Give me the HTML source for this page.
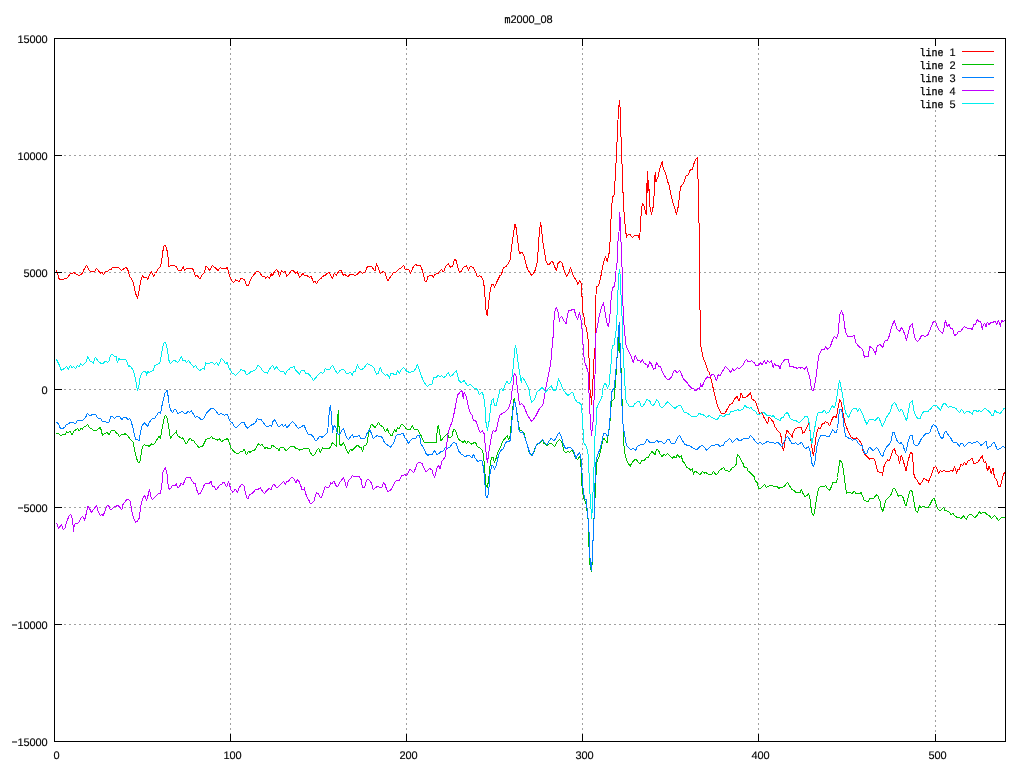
<!DOCTYPE html>
<html lang="en">
<head>
<meta charset="utf-8">
<title>m2000_08</title>
<style>
html,body{margin:0;padding:0;background:#fff;}
body{width:1024px;height:768px;overflow:hidden;position:relative;}
svg{position:absolute;left:0;top:0;display:block;}
text{font-size:11px;fill:#000;stroke:#000;stroke-width:0.12px;text-rendering:geometricPrecision;}
.d{font-family:"Liberation Sans","DejaVu Sans",sans-serif;}
.m{font-family:"Liberation Mono","DejaVu Sans Mono",monospace;stroke-width:0.3px;}
.grid{stroke:#a0a0a0;stroke-width:1;stroke-dasharray:2 3;fill:none;}
.ax{stroke:#000;stroke-width:1;fill:none;}
.ser{fill:none;stroke-width:1;stroke-linejoin:bevel;stroke-linecap:butt;}
</style>
</head>
<body>
<svg width="1024" height="768" viewBox="0 0 1024 768" shape-rendering="crispEdges">
<rect x="0" y="0" width="1024" height="768" fill="#ffffff"/>

<g class="grid">
<line x1="54" y1="155.5" x2="1006" y2="155.5"/>
<line x1="54" y1="272.5" x2="1006" y2="272.5"/>
<line x1="54" y1="389.5" x2="1006" y2="389.5"/>
<line x1="54" y1="507.5" x2="1006" y2="507.5"/>
<line x1="54" y1="624.5" x2="1006" y2="624.5"/>
<line x1="230.5" y1="38" x2="230.5" y2="742"/>
<line x1="406.5" y1="38" x2="406.5" y2="742"/>
<line x1="582.5" y1="38" x2="582.5" y2="742"/>
<line x1="758.5" y1="38" x2="758.5" y2="742"/>
<line x1="935.5" y1="110" x2="935.5" y2="742"/>
</g>
<rect x="914" y="46" width="86" height="63" fill="#ffffff"/>
<polyline class="ser" stroke="#ff0000" points="56.5,270.0 59.2,279.1 63.0,279.5 65.5,278.5 67.8,277.5 70.5,272.9 71.8,273.5 73.6,272.5 76.1,274.1 79.0,275.8 82.4,273.2 84.2,269.1 86.5,265.4 88.0,267.9 89.9,271.2 92.4,271.2 94.9,271.2 96.5,268.5 98.6,271.0 100.5,273.2 102.0,272.5 103.6,274.5 105.5,271.6 107.8,271.0 109.9,269.5 110.8,270.0 112.4,267.2 114.2,267.9 116.5,267.0 119.2,268.2 121.8,270.4 124.2,268.5 126.1,267.0 127.8,269.8 129.9,277.0 131.5,278.8 133.0,281.6 134.2,287.2 135.5,292.9 137.4,298.5 138.6,293.5 139.9,286.0 140.8,280.4 142.4,275.4 144.2,277.9 146.1,277.0 147.8,279.5 149.9,274.1 151.5,271.6 153.6,276.6 155.5,273.5 158.0,269.1 160.5,266.6 161.8,259.8 162.8,251.6 164.0,245.6 165.5,245.6 166.8,249.8 167.8,253.5 168.6,267.2 171.1,265.4 173.6,265.4 176.0,266.6 176.0,266.6 178.5,270.4 181.2,270.4 183.2,266.4 184.5,270.4 186.6,268.2 191.6,268.2 193.5,270.0 195.4,276.2 197.2,275.4 199.8,278.8 202.2,274.8 204.5,272.2 205.8,266.4 207.9,267.5 209.5,270.6 212.2,265.4 214.8,267.5 217.9,270.6 220.4,267.5 221.6,268.5 226.0,268.5 227.2,267.0 229.1,274.8 231.6,280.4 233.8,282.5 235.8,279.8 239.1,281.6 241.2,278.2 244.5,279.8 246.2,285.0 248.5,285.4 250.4,279.8 252.9,276.0 256.0,272.2 257.9,271.0 259.8,272.9 262.2,276.2 264.8,276.6 265.8,278.5 267.5,276.6 269.5,278.5 271.2,273.5 272.2,276.2 274.8,271.0 276.6,269.5 278.2,271.6 279.5,276.6 281.6,270.4 283.5,272.2 285.4,271.0 286.6,276.6 288.5,274.5 291.6,270.1 293.5,271.0 295.4,273.2 297.2,271.6 299.8,277.5 301.6,274.8 302.9,273.5 304.0,274.8 304.0,275.4 306.5,275.4 309.6,277.2 311.2,276.4 313.4,282.2 315.0,281.2 316.5,283.5 319.0,279.8 320.9,278.5 322.5,276.4 325.2,275.4 327.1,273.5 329.0,272.2 330.9,276.0 332.5,278.5 334.2,273.2 336.2,275.4 339.0,271.0 340.9,270.1 343.4,275.4 345.0,274.5 347.8,276.6 350.5,274.1 352.8,274.1 355.0,275.8 357.1,274.5 360.2,271.4 362.5,273.5 365.2,272.0 367.5,266.4 371.5,266.4 373.4,269.1 375.2,271.2 376.5,263.2 380.2,273.5 383.4,271.4 385.2,272.9 387.5,281.2 390.2,277.2 394.0,272.0 395.5,272.5 398.4,269.5 400.2,268.5 403.6,265.4 405.2,269.1 409.0,269.8 410.6,273.5 412.5,268.5 414.0,265.8 415.6,264.1 417.1,265.4 420.2,265.6 422.1,269.8 424.0,277.2 425.2,281.2 426.5,281.2 428.0,276.6 429.6,275.4 432.0,275.4 432.0,276.4 433.5,277.2 435.1,274.5 438.2,273.2 441.4,269.5 443.5,272.2 445.5,266.4 448.2,263.5 450.5,267.2 452.6,266.0 454.5,259.5 456.4,260.4 457.6,266.6 459.5,272.5 461.4,271.0 463.2,267.5 466.4,265.8 468.5,270.4 470.1,266.6 473.2,267.2 475.1,271.0 477.6,277.2 479.5,275.8 481.4,276.6 483.0,279.8 484.2,286.6 485.1,298.5 486.0,310.4 487.4,316.2 488.5,304.1 489.5,296.0 490.5,288.5 491.8,284.5 493.2,284.5 494.5,287.5 497.0,281.6 500.1,275.4 501.4,274.5 503.2,268.5 504.5,267.2 506.4,266.0 508.2,263.5 510.1,259.5 511.4,248.5 512.6,239.8 513.9,231.0 514.8,224.8 515.5,224.5 516.4,229.8 517.6,239.8 518.9,251.0 519.8,254.1 521.0,252.2 522.2,252.5 523.9,256.0 525.8,262.9 527.6,269.8 529.5,272.2 531.6,275.4 533.2,274.1 535.1,270.4 537.0,263.5 538.0,252.2 538.9,238.5 539.8,228.5 540.5,222.2 541.4,227.9 542.4,237.2 543.2,244.8 544.5,252.2 545.8,260.4 547.6,264.1 549.5,264.1 551.8,261.2 553.2,262.9 554.8,267.2 556.4,270.4 558.0,263.5 560.0,261.2 560.0,261.4 562.1,263.2 564.0,270.1 566.5,276.4 568.6,273.2 570.5,267.6 572.5,273.9 574.6,278.2 576.2,280.1 577.8,284.5 579.6,280.5 581.5,284.2 581.8,296.4 582.8,297.0 583.0,313.2 583.8,313.9 584.6,324.5 586.5,328.0 588.0,339.2 588.8,351.8 589.2,363.6 589.9,389.2 590.9,396.1 591.5,404.5 592.2,393.0 592.8,379.9 593.6,377.4 594.0,358.6 594.9,357.4 595.2,333.0 595.5,303.2 596.5,286.4 598.4,286.0 600.2,279.5 601.5,273.2 602.8,265.8 603.8,261.4 605.5,256.4 607.5,262.0 608.4,254.5 609.6,252.6 610.6,227.0 611.5,209.2 612.5,197.2 614.4,194.5 615.4,173.2 616.5,154.5 617.5,130.2 618.5,109.2 619.5,100.2 620.5,113.0 620.9,137.0 621.5,137.6 621.9,163.9 622.5,164.5 622.5,192.0 623.5,192.6 623.8,212.0 624.6,212.6 625.0,223.9 625.6,224.5 626.2,237.6 628.1,234.5 630.0,234.2 632.2,237.6 634.4,235.5 638.1,235.5 639.4,239.5 640.0,232.8 640.6,221.5 641.5,209.0 642.5,203.4 644.4,207.1 646.2,214.6 646.6,193.4 647.5,171.2 647.9,193.4 648.5,180.2 649.4,195.9 650.0,207.1 651.5,214.6 653.1,207.1 654.0,196.5 654.6,181.5 655.2,172.1 656.0,181.5 656.9,179.0 658.1,176.5 659.6,169.0 661.2,164.0 662.5,161.5 663.1,167.8 665.0,172.1 666.2,175.9 667.5,181.5 669.4,185.6 670.6,193.4 672.5,200.9 675.0,209.0 676.5,214.6 678.1,207.1 679.0,200.2 680.0,190.9 681.2,185.6 683.1,184.2 685.0,179.0 686.2,175.9 688.4,175.0 689.6,171.2 690.6,169.6 692.2,170.2 693.8,164.0 695.6,159.6 697.5,157.1 697.8,179.0 698.5,179.6 698.8,222.8 699.5,223.4 699.5,240.0 699.5,290.5 700.5,328.0 700.5,344.2 701.8,350.5 703.2,358.0 705.8,364.2 707.6,370.5 709.5,372.4 710.8,378.0 712.6,385.5 713.9,391.8 715.8,399.2 717.6,406.1 719.5,410.5 721.4,413.6 725.1,413.0 727.6,408.6 729.5,404.9 732.0,403.6 734.5,399.2 737.0,396.5 739.2,401.1 741.1,392.8 743.2,398.0 746.4,396.8 748.2,395.5 750.5,392.4 752.0,399.2 755.5,401.1 757.6,408.0 759.5,413.6 762.2,412.4 763.9,417.4 765.8,420.5 767.6,424.0 768.9,416.9 770.8,418.8 773.2,421.9 775.1,426.9 777.6,430.6 780.5,433.5 781.4,438.8 782.6,446.9 783.5,451.2 784.5,445.0 785.5,436.9 787.0,429.8 788.9,432.8 790.8,435.0 792.2,437.5 793.2,431.9 795.1,429.0 797.6,427.8 800.0,427.2 800.0,427.2 801.5,427.5 802.5,433.2 804.4,432.2 806.2,428.5 808.8,423.2 809.8,428.5 810.6,438.5 811.5,444.1 812.5,451.0 813.5,456.0 814.8,447.2 816.0,437.2 817.2,431.0 818.5,427.2 820.0,429.1 822.2,424.1 824.0,423.5 825.6,421.6 828.1,423.2 829.8,426.0 831.2,421.0 832.8,417.9 834.4,416.2 836.5,417.9 837.5,411.0 838.5,406.0 839.8,399.1 841.2,402.9 842.5,409.8 843.8,417.2 845.2,424.1 847.5,429.8 849.4,433.5 851.2,437.2 853.1,438.5 855.0,438.5 856.9,437.9 858.8,439.8 860.6,442.2 862.1,445.4 862.5,449.8 864.4,454.1 866.9,456.6 869.4,459.1 871.2,458.2 873.8,458.5 875.0,461.0 876.2,466.0 877.5,471.0 880.0,472.5 881.9,472.8 882.5,475.6 883.5,467.9 885.0,464.1 887.5,459.8 889.4,461.0 890.6,457.2 892.5,451.0 894.4,448.2 896.0,454.1 898.1,456.0 899.6,463.8 901.2,454.8 902.8,459.1 904.4,464.8 906.0,470.6 907.8,462.2 909.4,456.0 910.6,452.5 912.5,453.5 913.1,463.8 913.8,473.8 915.0,477.5 917.5,481.0 919.8,484.8 921.9,481.9 924.0,478.1 926.2,479.8 928.0,481.0 928.1,482.5 929.8,478.8 931.6,474.4 933.5,468.1 935.8,466.2 937.0,468.8 938.5,473.5 940.4,470.6 942.0,472.2 943.5,470.2 945.4,471.5 949.8,471.5 951.0,470.0 952.9,471.2 954.5,466.5 955.8,470.0 956.6,474.4 957.5,469.4 959.1,469.4 961.0,463.8 962.9,465.6 964.5,461.9 966.2,465.0 968.2,460.2 970.4,460.0 972.0,457.8 973.5,463.1 975.4,463.5 977.9,462.2 979.8,459.4 982.2,455.6 984.1,462.5 985.8,461.9 987.5,471.2 989.1,466.0 991.2,473.5 992.9,467.8 994.5,477.5 996.6,479.4 998.5,486.5 1000.4,486.5 1002.0,480.0 1003.5,474.4 1005.0,472.2"/>
<polyline class="ser" stroke="#00c000" points="56.5,433.8 58.6,433.4 60.5,435.5 63.0,434.6 65.5,434.0 66.8,431.5 68.2,433.0 70.2,431.2 72.4,435.2 73.6,431.2 75.5,430.0 77.8,428.4 79.2,431.2 80.8,428.4 82.4,429.2 84.2,426.5 86.1,425.9 87.8,424.2 89.5,427.8 91.8,428.8 93.6,430.5 96.1,430.5 98.0,429.2 100.2,427.5 101.1,429.6 102.4,435.2 104.2,434.0 106.8,432.5 109.2,434.6 110.5,431.5 112.4,430.2 114.9,430.5 116.8,433.8 118.0,434.0 119.5,436.5 121.8,434.2 123.0,435.2 124.9,433.8 126.8,434.6 128.6,437.1 130.5,439.6 133.0,442.1 134.2,447.8 135.5,454.0 137.4,460.9 138.6,462.8 139.9,462.1 141.1,454.6 142.4,446.5 144.2,444.6 146.1,445.9 147.6,445.0 149.2,446.5 151.5,443.8 153.6,444.6 155.5,442.1 157.4,439.0 159.0,435.9 160.5,438.4 161.8,430.2 163.0,424.0 164.2,417.8 165.5,415.2 167.4,418.4 168.6,426.5 169.9,435.2 170.5,439.0 172.4,435.2 174.2,434.0 176.0,432.1 176.0,430.5 177.5,435.9 179.8,437.1 181.2,438.4 183.2,437.8 184.8,441.5 186.2,444.2 188.5,440.0 190.4,437.8 191.6,440.9 193.5,440.5 195.4,443.4 197.2,445.2 198.8,448.0 200.4,446.5 202.2,447.1 204.1,443.4 206.0,439.6 207.9,438.4 209.1,439.0 211.6,436.5 212.9,438.4 214.8,438.8 217.2,440.2 219.8,438.8 221.6,442.1 222.9,440.2 225.4,439.6 227.5,438.4 229.1,442.1 231.0,447.8 232.9,450.2 234.8,452.1 236.6,453.4 239.1,453.0 241.0,450.9 242.2,452.1 244.1,448.8 246.4,455.2 248.5,451.2 249.8,452.5 252.2,450.9 254.1,450.9 256.0,447.8 258.5,443.8 260.4,445.2 262.2,444.6 265.0,448.4 266.0,446.8 267.9,448.4 270.4,449.0 272.2,445.0 274.1,446.5 276.0,447.8 277.9,449.0 278.8,451.2 279.8,447.8 283.5,447.5 285.4,450.0 287.2,450.0 289.1,447.8 291.0,446.5 292.9,447.1 294.1,446.2 296.0,448.8 297.9,448.8 299.8,450.2 302.2,449.2 304.0,448.4 304.0,448.0 306.5,448.4 308.8,448.4 310.2,452.1 312.1,455.2 314.0,455.2 315.9,452.5 317.1,450.2 318.8,448.4 320.2,452.5 322.5,447.8 323.8,449.0 325.9,448.4 329.6,448.4 330.9,445.9 332.5,442.5 334.6,444.6 336.5,446.5 336.8,437.8 337.5,420.2 338.4,410.2 338.8,426.5 339.6,427.1 339.6,444.0 340.9,445.9 343.4,442.5 344.6,445.2 346.5,450.2 348.4,453.4 350.2,449.6 352.1,450.2 355.2,447.1 357.5,445.2 359.6,447.1 360.9,447.1 362.5,451.5 364.0,446.2 365.9,445.2 367.5,442.1 368.4,434.0 370.0,427.8 371.5,424.2 373.4,425.9 375.0,427.8 377.1,424.6 378.6,422.1 380.2,425.2 382.8,426.8 384.0,429.0 385.5,432.1 387.1,428.4 389.0,432.8 390.9,435.2 392.1,435.5 393.4,432.1 394.6,429.6 396.2,432.1 397.5,427.8 399.0,429.0 401.5,424.2 403.6,425.2 405.9,428.4 407.1,429.2 410.2,429.2 412.5,425.2 413.8,429.0 417.8,429.6 419.6,433.0 421.5,436.5 423.4,440.9 424.6,442.8 427.8,442.4 432.0,442.4 432.0,442.5 436.4,442.5 437.2,430.0 438.2,425.6 439.2,430.0 440.8,440.6 442.6,438.8 445.1,435.6 447.6,433.8 448.9,438.1 452.0,436.2 453.2,430.6 454.5,428.8 456.4,433.1 458.2,438.8 460.1,440.6 463.2,442.5 464.8,440.6 466.4,443.8 468.2,441.2 471.8,444.4 473.9,442.5 475.8,443.1 477.6,446.9 480.1,448.1 482.0,449.8 483.2,453.8 484.2,462.5 485.1,475.0 486.0,485.0 487.4,487.9 488.5,480.0 489.2,475.0 489.8,467.5 490.5,461.2 491.8,457.5 493.2,457.5 494.5,462.5 496.4,457.5 498.2,451.2 500.1,448.1 502.0,443.1 503.9,439.8 505.8,437.5 507.6,435.6 508.5,440.0 510.1,436.2 510.8,428.8 512.0,416.2 513.0,406.2 514.2,398.1 515.5,403.8 517.0,412.5 518.2,422.5 519.5,430.0 521.4,430.6 523.9,433.1 525.1,437.5 527.6,446.2 529.5,453.8 531.6,455.0 533.5,453.1 535.1,448.1 537.0,444.4 538.9,443.1 540.8,441.9 542.6,440.0 544.0,443.4 544.0,443.4 546.8,445.5 549.0,444.0 551.2,443.0 552.8,444.6 554.6,446.5 556.5,442.8 559.6,439.2 561.5,441.5 562.8,445.9 564.0,450.9 565.5,452.5 567.8,451.5 569.6,452.5 571.8,450.2 573.4,452.8 575.9,458.4 577.5,459.6 579.6,456.5 580.9,460.2 581.2,476.5 582.1,486.5 583.0,494.0 584.0,499.0 585.9,502.8 587.1,511.5 587.5,511.2 588.0,518.8 588.4,532.5 588.8,541.2 589.2,552.5 589.6,562.5 590.5,568.8 591.5,571.9 592.4,560.0 593.0,540.2 594.0,518.5 594.9,500.0 595.2,494.0 596.2,470.2 597.1,460.9 599.0,457.1 600.9,449.0 602.8,440.2 603.8,437.8 605.2,440.2 607.1,442.8 608.0,436.5 609.0,430.2 609.6,424.0 609.8,424.0 610.9,408.0 612.1,400.5 614.0,399.2 615.2,385.5 616.1,374.2 616.9,358.0 617.8,356.8 618.4,339.2 619.0,335.5 619.6,345.5 620.5,361.8 621.1,369.2 621.5,386.8 621.8,395.5 622.8,410.5 623.0,424.0 623.1,424.0 623.4,436.5 624.2,449.0 625.5,456.5 627.1,461.5 630.2,466.5 631.5,463.4 633.0,461.5 635.5,459.0 637.8,461.5 640.0,463.8 642.1,460.2 644.0,460.9 646.5,457.5 648.4,457.1 650.2,454.0 651.8,451.5 653.4,453.0 655.0,454.6 656.5,449.6 658.4,450.2 660.2,454.0 662.1,456.5 663.8,454.6 665.5,455.2 667.5,453.4 669.6,455.5 672.0,457.8 672.0,458.5 673.9,456.5 675.8,457.8 677.6,454.4 679.2,457.2 681.4,455.6 682.6,461.2 684.5,463.1 686.8,467.2 688.9,468.5 690.8,470.2 692.2,468.5 693.5,474.4 695.1,471.2 697.6,472.8 700.1,474.8 702.6,471.5 704.8,473.1 706.4,472.8 708.5,474.6 711.8,474.4 713.5,471.5 715.8,474.8 717.6,473.8 719.5,470.2 721.4,469.0 723.5,467.5 725.1,470.0 727.0,470.6 729.5,471.5 732.0,468.1 734.5,466.9 736.4,463.8 737.0,457.5 737.6,454.4 739.5,456.9 741.4,460.6 743.2,463.8 744.5,468.1 746.4,466.9 748.2,471.2 750.1,472.5 752.0,474.4 753.9,476.2 755.5,481.2 757.6,483.1 758.5,489.0 760.8,488.1 762.6,486.2 764.5,484.4 766.4,487.5 768.9,486.2 770.8,485.2 773.2,486.2 775.1,486.9 777.0,486.2 778.9,488.5 780.8,486.9 782.6,487.5 784.5,486.2 786.4,483.5 787.6,482.2 789.5,485.6 792.0,489.8 793.9,490.2 795.8,492.5 798.2,492.5 800.0,492.5 800.0,491.2 801.5,489.4 803.1,493.8 805.0,496.5 806.9,495.6 808.5,493.5 810.0,498.8 811.0,507.5 812.1,513.1 813.5,516.2 814.8,510.0 816.0,502.5 817.2,495.0 818.5,488.8 820.0,486.9 821.9,486.2 823.8,486.9 825.6,485.2 827.5,488.8 829.4,490.6 831.0,487.5 832.8,482.5 836.5,482.2 837.5,477.5 838.5,468.8 839.8,460.6 841.5,461.5 842.5,465.0 843.8,473.8 845.0,483.1 846.5,493.1 849.4,492.5 851.9,493.5 854.4,491.2 855.6,493.1 858.1,493.1 859.8,493.5 861.2,492.2 862.5,496.2 864.4,500.6 866.2,501.2 868.1,502.2 869.4,498.8 871.9,498.1 873.8,498.1 876.5,494.8 878.1,496.2 880.0,501.2 881.2,507.5 882.8,511.5 884.0,507.5 885.6,500.6 887.5,498.8 889.4,496.5 891.2,494.4 892.8,489.4 894.4,488.1 896.0,490.6 898.1,496.2 899.6,495.6 901.5,495.2 903.1,497.5 905.0,503.8 906.2,506.2 907.8,498.8 909.4,492.5 910.6,490.2 912.5,492.2 913.5,498.8 915.0,507.5 916.2,511.2 917.5,512.5 918.8,508.1 919.8,505.6 920.6,507.8 923.1,506.2 925.6,507.2 928.0,507.5 928.1,507.2 930.4,503.8 932.2,500.0 933.8,498.1 935.4,501.2 936.6,506.2 938.5,510.0 940.4,510.2 942.2,509.0 943.5,506.9 945.0,510.6 947.2,511.0 949.1,511.9 951.0,514.4 952.9,513.5 954.8,515.6 956.6,517.2 958.5,517.5 961.0,518.5 963.5,515.6 964.8,517.8 966.2,519.4 967.9,516.2 969.8,514.4 972.2,515.2 974.8,517.8 976.6,516.2 978.2,514.0 979.5,511.5 981.0,513.8 983.5,512.2 985.4,512.8 987.2,514.8 989.5,515.6 991.2,518.5 992.9,516.9 994.5,515.6 996.0,516.9 998.5,520.6 1000.4,518.5 1002.2,517.2 1004.1,517.8 1005.0,517.2"/>
<polyline class="ser" stroke="#0080ff" points="56.5,422.1 58.6,424.0 60.2,428.0 63.0,428.4 64.9,427.1 66.5,424.6 68.2,424.0 70.5,422.1 73.6,422.5 75.5,423.8 77.4,420.5 79.9,420.5 82.4,420.2 84.2,419.0 85.5,417.8 87.4,413.4 89.2,415.2 91.1,415.2 93.0,414.2 95.5,414.2 97.4,417.8 99.2,418.4 100.8,418.4 102.8,422.1 104.2,421.2 106.8,422.5 109.2,422.1 110.5,416.5 112.4,416.5 114.2,418.4 116.1,417.1 118.0,416.2 119.9,416.8 121.8,419.6 123.6,417.5 126.1,417.1 128.0,420.2 129.9,418.4 131.1,421.5 133.0,427.8 134.2,434.0 135.5,439.0 137.4,439.6 139.2,441.2 140.5,432.1 141.8,426.5 144.2,422.5 146.1,424.6 147.6,426.5 149.2,422.8 151.1,419.6 153.0,418.4 154.9,418.0 156.8,415.0 158.6,412.1 160.5,413.4 161.8,406.5 163.0,400.9 164.9,393.4 167.0,390.5 168.2,396.5 169.2,405.2 170.5,409.6 172.4,412.8 174.2,409.6 176.0,409.6 176.0,409.6 177.5,413.4 179.8,412.8 182.2,411.2 184.1,413.4 186.0,413.4 187.9,411.5 189.5,412.5 191.2,410.5 192.9,413.4 195.4,417.5 197.2,416.2 199.1,417.8 201.0,419.6 202.9,419.2 204.5,417.8 205.8,414.0 207.9,411.5 210.4,409.0 212.5,408.4 214.8,409.6 216.6,411.8 218.5,414.6 221.0,413.4 222.9,414.6 224.8,415.2 227.2,413.8 228.5,417.8 230.4,421.5 232.2,422.8 234.1,425.9 235.8,428.0 237.2,427.1 239.1,424.6 241.0,422.8 244.1,422.5 246.0,426.5 247.9,428.4 249.8,426.2 252.2,424.6 255.4,423.0 257.2,418.8 259.1,419.6 261.0,419.6 263.5,422.8 266.0,426.2 268.5,426.5 270.0,425.5 271.6,426.2 272.9,421.5 274.5,419.6 276.0,422.1 277.9,425.9 279.8,426.5 281.6,423.8 283.5,426.5 285.4,424.6 286.6,428.0 288.5,425.9 290.4,423.8 292.5,421.5 294.8,423.8 296.6,426.5 298.5,428.4 301.0,427.1 304.0,425.0 304.0,425.0 305.9,429.6 307.8,434.0 309.6,434.0 311.2,434.6 313.4,437.1 315.2,440.2 316.5,440.5 318.4,437.8 320.0,435.9 322.1,437.5 324.0,435.9 325.9,434.0 327.1,432.8 328.0,427.8 328.8,416.5 329.6,409.0 330.5,405.2 331.2,412.8 332.1,426.5 332.5,433.4 333.4,427.1 334.2,425.2 335.9,427.8 337.1,432.1 338.4,435.2 340.2,433.4 342.1,429.6 343.4,428.4 344.6,432.1 346.5,437.1 348.4,439.6 350.2,437.1 352.1,434.6 353.4,437.1 355.2,436.5 357.1,436.5 359.0,435.0 360.9,438.4 363.4,438.8 365.2,437.8 366.5,434.6 368.4,430.9 370.0,429.6 371.5,434.0 373.4,438.8 375.2,437.1 377.1,435.2 379.0,436.5 380.9,436.5 382.8,438.4 384.0,441.5 385.9,443.8 388.4,445.5 390.2,447.5 392.1,445.2 394.0,442.1 395.9,436.5 397.5,434.2 399.0,435.2 400.9,434.0 403.4,433.4 404.6,437.5 406.5,439.6 408.4,443.4 410.2,440.9 412.1,438.8 414.0,438.4 415.9,438.0 417.8,435.2 419.6,435.2 420.9,444.0 422.8,446.5 424.6,450.2 426.2,454.0 427.8,455.2 430.2,454.6 432.0,454.6 432.0,454.4 434.5,450.6 437.0,454.4 438.9,453.8 440.8,451.5 443.2,451.0 445.5,447.5 447.6,448.1 450.1,446.9 452.0,443.8 453.9,442.5 456.4,443.8 457.6,447.5 458.9,451.2 461.4,454.4 463.2,455.0 464.8,456.9 468.2,455.2 470.1,456.2 471.8,458.1 473.5,454.4 475.1,458.1 477.0,460.6 478.5,461.9 480.1,460.0 482.0,461.2 483.2,466.2 484.2,475.0 485.1,486.2 485.8,496.0 487.0,497.5 488.5,493.5 489.1,486.0 489.8,476.0 490.5,471.2 491.8,465.0 493.2,466.0 494.5,469.4 496.4,465.0 497.6,458.8 499.5,452.5 501.4,450.0 503.2,448.8 505.1,443.8 507.0,441.2 508.9,441.9 510.5,440.0 511.4,427.5 512.6,412.5 513.9,403.8 514.5,401.2 515.5,403.8 516.4,410.0 517.6,418.8 518.9,429.4 520.5,432.8 522.6,431.9 524.5,436.2 526.4,442.5 528.2,448.1 530.1,453.8 531.6,456.2 533.2,453.1 535.1,448.8 537.0,443.8 538.9,443.5 540.8,441.2 542.6,439.4 544.0,442.1 544.0,442.1 547.1,445.2 549.2,440.9 551.2,438.0 554.0,440.9 555.9,438.4 557.8,434.6 559.4,432.5 561.5,437.1 563.0,442.8 564.6,447.1 566.5,449.0 568.4,447.1 570.2,447.1 573.4,450.2 575.9,458.4 577.5,455.2 579.6,452.5 580.9,457.8 581.5,465.2 582.1,474.0 582.8,485.9 583.8,494.0 584.6,499.0 586.5,499.6 587.1,509.0 587.8,511.2 588.4,531.2 589.2,532.5 589.6,552.5 590.2,560.0 591.2,568.8 591.5,570.6 592.1,560.0 592.8,540.6 593.6,540.0 594.0,518.8 594.6,518.1 594.6,500.0 594.8,494.0 595.2,474.0 596.2,459.0 597.8,454.6 599.6,450.2 601.5,443.4 602.8,436.5 603.8,433.4 605.9,433.4 607.5,437.1 608.8,430.9 609.6,424.0 609.8,424.0 610.2,413.0 611.5,394.2 612.5,389.0 613.8,389.9 614.6,384.2 615.9,371.8 616.5,358.0 617.4,356.8 617.8,340.5 618.6,328.0 619.4,322.0 619.6,335.5 620.2,346.8 620.9,369.2 621.5,386.1 622.1,409.2 622.8,424.0 623.4,424.0 624.0,431.5 625.0,436.5 625.9,442.8 627.1,446.2 629.0,447.8 630.5,449.6 633.4,448.4 635.9,450.2 637.1,447.1 639.0,445.2 641.5,444.6 644.6,443.8 645.9,440.9 647.1,439.2 649.6,442.1 651.5,442.5 654.6,442.5 656.5,440.2 658.4,442.1 660.9,441.2 662.5,442.1 663.8,444.0 665.5,442.8 667.1,439.6 669.0,439.6 670.9,442.8 672.0,443.4 672.0,443.5 674.8,443.1 676.4,440.6 678.2,436.9 679.8,435.2 681.4,438.8 683.2,441.9 684.5,444.0 687.0,445.2 689.5,445.6 692.0,447.5 694.5,448.8 697.0,449.8 699.5,446.9 702.0,445.2 704.8,447.5 706.4,450.2 708.9,448.1 711.4,445.6 713.9,445.6 715.8,444.4 718.2,444.4 720.5,447.2 721.4,445.0 723.2,446.2 725.1,441.9 727.6,440.6 729.5,438.1 732.6,442.5 734.5,440.6 736.8,438.1 738.9,440.6 741.4,440.2 743.2,438.8 746.4,438.1 748.5,438.5 750.5,435.2 752.6,437.5 755.1,441.0 757.6,443.8 759.5,442.5 761.0,442.8 762.6,444.4 765.1,443.1 767.6,441.2 770.1,442.5 772.6,442.5 775.1,443.5 777.6,442.2 779.5,443.8 781.4,446.5 782.6,445.0 784.5,441.2 786.4,437.5 787.6,436.2 789.5,439.4 791.4,443.1 793.9,443.8 795.8,442.5 797.6,444.4 800.0,443.5 800.0,442.2 801.9,442.9 803.8,446.6 805.2,448.5 806.9,447.9 808.5,446.6 809.8,449.8 811.0,457.2 812.1,464.1 813.5,467.2 814.8,462.2 815.6,456.0 816.9,446.6 818.5,439.8 820.6,435.8 823.1,435.4 825.6,436.0 827.5,436.6 829.8,436.0 831.2,432.2 832.8,429.5 834.8,432.2 836.5,432.2 837.5,428.5 838.5,419.8 839.4,410.0 841.0,409.5 842.5,413.5 843.5,422.2 844.4,431.0 846.0,436.6 848.1,437.9 850.6,438.5 852.5,440.4 855.0,439.1 856.9,441.0 858.8,444.1 860.6,445.4 862.5,446.0 863.1,449.8 865.0,453.5 866.9,453.5 868.1,449.8 869.4,447.2 871.2,448.5 873.1,450.4 875.0,449.1 876.5,447.2 878.1,449.1 880.0,452.9 882.5,457.2 884.0,452.2 885.6,448.2 887.5,446.0 889.8,443.5 891.2,440.4 892.5,432.9 894.4,432.5 895.6,437.2 897.2,441.0 899.6,444.1 901.2,442.5 903.1,445.4 904.4,449.8 905.6,452.5 906.9,447.2 908.1,441.6 909.8,436.0 912.5,435.4 913.5,443.5 915.0,445.0 917.2,445.8 919.4,442.9 921.2,439.1 923.1,436.6 925.6,433.8 928.0,433.2 928.1,433.2 929.1,433.2 930.4,431.0 931.6,427.2 933.2,424.5 934.8,425.4 936.6,427.0 937.9,431.0 939.8,435.4 941.6,438.5 942.9,437.9 944.1,433.5 945.6,431.0 947.2,433.5 949.1,436.0 951.0,438.5 952.9,442.0 954.8,442.2 956.6,442.2 958.1,444.5 959.5,446.6 961.0,442.9 962.9,444.1 964.5,446.6 966.2,444.5 968.2,442.9 969.8,442.2 972.0,444.1 973.5,442.2 975.4,442.2 977.2,441.2 979.1,442.9 981.0,445.4 982.9,444.1 984.8,442.2 986.0,441.2 987.5,448.5 989.1,446.6 991.0,446.2 992.2,443.5 994.1,442.2 995.6,445.4 997.2,449.5 999.1,449.1 1001.0,447.9 1002.9,446.2 1005.0,447.9"/>
<polyline class="ser" stroke="#c000ff" points="56.5,523.0 58.6,528.6 60.2,526.1 61.5,524.2 63.2,529.5 64.9,528.0 66.8,521.8 68.6,516.8 70.5,514.2 72.4,518.6 73.6,531.8 74.2,525.5 75.5,523.6 77.8,523.0 79.2,521.8 80.8,518.0 82.8,516.1 84.5,520.5 86.1,514.2 87.8,506.1 89.5,508.6 91.5,512.4 93.2,509.9 94.9,507.8 96.5,505.2 98.0,511.1 100.2,515.5 102.0,514.0 103.0,515.5 104.9,511.8 106.1,507.4 107.8,505.2 109.2,506.5 110.5,510.2 112.4,508.6 114.9,506.5 116.5,506.1 118.0,505.2 119.9,507.4 121.8,510.2 122.8,504.9 124.5,502.4 126.5,499.9 128.0,499.0 129.9,500.5 131.1,506.8 132.4,514.2 134.0,519.2 135.5,522.4 137.4,521.1 139.0,518.6 140.2,510.5 141.5,502.4 143.0,498.0 144.5,495.2 146.5,500.5 148.0,495.5 149.5,489.2 151.5,499.0 153.0,499.2 155.5,496.8 158.0,494.0 160.5,493.0 161.8,485.5 163.0,471.8 164.5,468.6 165.5,467.4 167.0,474.2 168.2,485.5 169.0,489.2 170.5,488.6 172.4,485.2 174.2,486.1 176.0,484.5 176.0,483.5 177.5,487.6 179.1,487.2 181.0,483.5 183.2,485.1 184.8,480.1 186.2,477.6 190.4,477.2 191.6,480.1 193.5,483.0 195.4,483.5 196.6,489.5 198.5,494.5 200.4,493.0 202.2,489.5 203.8,485.8 205.4,483.5 209.1,483.2 211.2,481.4 212.5,487.0 214.1,486.4 216.2,489.8 218.5,487.0 220.4,484.5 222.0,484.2 223.5,481.8 225.4,484.5 226.6,486.8 228.5,481.4 229.8,485.8 231.0,490.1 232.9,492.2 234.1,490.8 235.4,488.9 237.2,492.6 239.1,488.2 240.8,485.1 242.2,484.2 244.1,486.0 245.4,492.6 246.6,497.6 248.2,498.9 249.5,494.5 251.6,493.9 253.5,492.0 255.4,489.8 257.9,489.5 260.4,487.6 262.2,490.8 264.5,493.5 266.6,490.8 269.1,488.2 271.2,490.1 272.5,485.1 274.1,484.2 276.0,487.0 277.9,487.2 279.8,485.1 282.2,482.6 283.8,481.4 285.6,485.1 286.2,482.0 288.5,481.4 290.4,478.5 292.2,477.2 294.1,479.2 295.8,483.2 297.2,479.5 299.1,481.4 301.0,486.4 302.2,490.1 304.0,488.9 304.0,487.0 305.5,493.2 307.1,497.0 309.0,500.5 310.2,503.5 312.1,503.2 314.0,500.8 315.5,495.8 316.5,492.6 318.4,493.5 320.5,498.2 322.1,495.8 324.0,490.1 325.2,486.8 327.1,487.2 329.6,487.0 330.5,482.6 332.1,483.5 334.0,480.8 335.9,485.8 337.8,486.4 339.6,482.6 341.5,480.1 343.4,477.6 345.0,482.0 346.5,488.2 347.5,483.2 349.0,480.1 350.9,478.2 352.5,475.5 354.0,477.0 356.5,476.4 359.0,476.4 360.9,478.9 361.8,484.5 362.8,488.2 364.6,487.0 366.1,482.0 367.5,479.5 369.6,480.1 371.5,483.2 373.4,490.1 375.2,487.6 377.8,486.4 379.6,487.2 382.1,487.0 383.4,482.6 385.0,484.5 386.5,488.9 388.0,491.4 390.0,490.5 392.1,488.2 393.4,485.1 395.0,481.8 397.1,480.1 399.6,480.1 401.5,475.8 403.4,475.8 405.0,474.2 406.5,476.0 408.4,472.2 410.2,469.2 412.1,470.8 413.6,473.2 415.5,468.2 417.1,463.9 418.8,462.2 422.1,463.5 424.0,468.2 425.9,472.2 427.8,470.1 429.6,468.5 432.0,469.8 432.0,471.2 434.5,477.5 437.2,467.5 438.5,465.6 440.1,468.8 442.0,461.2 445.1,457.2 446.0,450.0 447.2,440.0 448.5,431.2 450.8,425.0 452.6,420.0 454.5,411.2 456.4,401.2 457.6,395.0 459.8,392.5 461.8,390.2 463.2,398.5 464.2,392.2 465.8,395.6 467.6,402.5 468.2,406.2 470.1,412.5 472.0,415.0 473.2,420.0 476.0,421.2 477.6,425.0 478.9,430.0 480.5,433.1 482.2,430.6 484.2,433.8 485.1,443.8 486.4,455.0 487.4,463.1 488.5,455.0 489.8,446.2 490.8,440.0 492.0,433.8 493.5,430.0 494.5,431.9 496.4,430.0 497.6,423.8 499.5,415.6 501.1,414.4 503.5,412.5 505.8,411.5 508.2,409.0 509.8,405.0 511.0,400.0 512.0,391.2 513.0,385.0 513.9,375.0 514.8,373.1 516.0,376.2 517.0,385.0 518.0,392.5 518.9,400.0 519.5,404.4 522.0,403.8 523.9,406.2 526.4,412.5 528.9,417.5 531.6,421.2 533.9,418.8 536.4,414.8 538.2,411.2 540.1,407.5 542.0,406.2 543.2,403.8 544.0,399.2 544.0,399.2 545.9,388.0 547.8,378.0 549.6,369.2 550.9,361.1 551.8,349.9 552.8,340.5 553.4,331.8 553.8,328.0 553.9,321.4 554.6,312.0 556.5,307.4 558.0,312.0 559.6,322.0 560.0,318.2 561.5,316.4 564.0,321.0 566.2,323.6 567.5,314.5 568.6,310.8 570.2,311.0 572.1,309.5 574.2,309.5 575.9,315.8 577.5,319.5 579.6,312.6 580.9,319.5 581.5,324.5 581.9,328.0 582.5,331.8 583.0,344.2 583.8,354.9 584.6,361.8 586.5,366.8 588.0,371.8 588.8,388.0 589.2,398.0 590.0,414.2 590.5,424.0 591.5,435.9 592.8,424.0 593.4,417.4 594.0,400.5 595.0,375.5 595.5,346.8 596.2,328.0 597.1,328.0 599.0,317.0 600.9,309.5 603.4,302.6 605.2,313.2 607.1,323.9 608.4,327.0 609.6,320.1 610.6,305.8 611.5,293.2 612.8,287.6 614.6,285.8 615.5,278.2 616.5,263.2 617.4,262.6 617.8,241.4 618.6,240.8 619.0,232.0 619.5,212.2 620.5,221.9 620.6,241.9 621.5,242.5 621.6,266.9 622.5,267.5 622.5,296.0 624.2,328.0 625.0,335.5 625.9,344.9 627.8,349.9 630.2,354.2 633.4,362.4 635.2,355.5 637.5,360.2 639.6,360.8 640.9,362.4 642.4,359.5 644.0,363.0 647.1,364.9 648.0,367.4 649.6,361.5 651.5,364.2 653.6,369.2 655.2,368.2 656.5,362.4 658.4,366.1 660.5,366.8 662.1,371.1 664.6,376.1 667.1,379.2 669.6,379.2 672.0,376.1 672.0,374.9 674.5,369.9 677.2,373.0 679.8,370.5 681.8,374.9 683.2,378.6 686.4,381.8 689.5,386.1 692.0,388.6 693.9,389.0 695.5,391.1 698.2,388.0 699.5,389.9 700.5,383.6 702.0,386.8 704.5,381.1 707.0,376.8 709.5,378.0 711.4,374.9 713.2,374.2 715.1,376.8 716.4,381.1 718.2,374.9 720.1,376.1 722.6,371.1 725.5,366.5 728.2,369.2 730.5,372.4 732.6,368.6 734.2,371.1 737.0,367.8 739.5,368.2 743.2,364.9 745.1,361.1 746.4,359.2 748.2,361.8 751.4,360.8 753.9,362.4 755.8,365.2 758.2,365.5 760.8,362.4 762.0,364.9 764.5,359.9 765.8,364.2 767.6,360.8 769.5,362.4 771.6,360.8 773.2,368.0 774.5,363.6 776.4,366.1 778.2,364.9 780.1,368.6 781.4,363.6 783.2,361.5 785.1,359.5 788.2,359.5 790.1,366.8 792.0,366.5 797.0,368.2 800.0,367.4 800.0,368.5 802.5,367.5 804.8,369.1 806.5,366.6 808.1,372.2 809.8,377.2 811.0,386.0 812.1,390.0 813.5,390.0 814.8,384.8 816.0,377.2 817.2,367.2 818.5,356.6 820.0,352.9 822.2,349.1 824.0,349.8 825.6,346.6 827.8,349.5 829.8,347.2 831.2,344.1 832.8,339.1 834.4,336.6 836.5,338.5 838.1,333.5 838.8,324.8 839.8,314.8 841.5,310.4 843.1,314.8 844.0,321.0 845.0,328.5 846.2,334.1 848.1,337.0 850.0,336.2 852.5,336.2 854.4,335.4 855.6,342.2 857.5,344.8 859.8,347.5 861.9,348.5 863.1,351.6 864.4,357.2 866.2,356.6 868.5,356.6 869.4,346.6 871.9,347.5 873.8,350.4 875.6,354.5 876.5,347.9 878.1,345.4 880.0,344.1 881.5,346.0 882.5,348.2 884.4,342.0 885.6,340.4 887.5,340.0 889.0,336.6 890.6,330.4 892.2,325.4 894.4,320.4 895.6,324.8 896.9,328.8 899.6,331.2 901.5,327.5 903.5,331.0 905.2,335.8 906.5,340.4 908.1,333.5 909.8,326.6 911.5,324.5 912.5,323.5 913.5,331.6 914.8,337.9 917.2,341.6 919.4,339.5 921.9,335.0 923.8,335.8 925.6,336.6 928.0,334.5 928.2,333.8 930.4,328.8 932.2,324.4 933.5,321.5 935.8,322.5 937.2,326.2 939.1,330.0 941.2,332.5 942.5,333.5 943.8,328.8 945.4,320.2 947.2,326.9 949.1,323.8 950.4,328.1 952.5,328.1 953.5,332.5 954.5,335.6 957.2,333.8 958.5,331.2 961.0,331.0 962.9,328.1 964.5,326.5 966.2,327.8 968.5,328.5 971.0,328.5 972.2,329.8 973.5,325.0 975.4,324.4 977.2,319.4 979.1,321.9 980.8,321.5 982.2,329.4 983.5,324.4 984.8,323.1 986.0,326.5 987.5,321.9 989.1,325.2 991.0,321.9 992.9,322.5 994.8,321.2 996.6,324.4 998.5,320.6 1000.4,326.5 1001.6,319.8 1003.2,321.9 1005.0,320.2"/>
<polyline class="ser" stroke="#00eeee" points="56.5,359.4 59.2,365.0 61.1,370.2 63.6,369.0 64.9,368.5 66.5,366.2 68.2,369.4 70.5,365.2 72.4,368.1 73.6,366.2 75.5,368.5 77.4,365.6 79.0,366.5 80.8,363.5 82.4,365.6 84.2,363.8 86.1,361.9 87.8,356.2 89.9,361.2 91.8,361.9 93.2,363.5 95.2,357.2 97.4,360.2 99.5,362.2 101.8,363.8 103.6,363.1 105.5,361.2 107.4,362.5 109.2,360.6 110.5,355.4 112.0,354.0 114.2,356.2 116.1,356.5 117.4,362.5 119.0,358.5 120.5,359.8 126.1,359.8 127.4,362.5 128.6,367.2 129.9,365.6 131.8,368.1 133.6,371.2 135.5,378.8 137.4,390.6 139.0,385.0 140.2,376.9 141.8,373.1 144.0,371.0 146.1,372.5 146.8,375.4 147.6,371.5 149.2,372.5 151.8,371.0 153.6,370.0 154.6,365.6 157.4,364.4 159.9,362.8 161.1,356.2 162.8,346.9 164.0,343.1 165.5,342.5 166.8,346.9 168.0,354.4 169.0,360.6 170.5,364.0 172.0,361.9 174.0,360.2 176.0,361.2 176.0,361.2 177.5,362.5 179.8,360.0 181.2,356.2 183.2,361.0 184.8,360.2 186.6,362.5 188.5,360.2 191.0,363.8 192.9,365.6 193.8,367.5 195.4,365.2 197.2,368.1 199.8,370.6 202.2,368.8 203.5,368.1 204.5,370.2 205.4,362.8 207.2,363.5 209.8,363.1 212.2,362.2 214.8,364.4 216.6,362.2 218.5,365.6 219.8,362.5 221.2,358.1 223.5,360.2 225.4,364.0 227.2,362.5 228.5,366.9 230.4,370.0 232.2,373.1 234.1,373.8 235.8,375.6 237.2,373.8 239.1,372.2 241.2,369.4 242.9,370.6 244.5,370.4 246.6,375.2 248.5,373.8 251.0,371.5 252.9,371.2 255.4,370.0 257.2,366.5 258.5,365.2 260.0,366.9 262.2,370.0 264.8,372.5 266.0,371.9 267.5,373.5 269.1,370.0 271.0,367.2 272.6,365.2 274.8,369.4 276.6,366.5 278.5,369.4 280.4,371.2 282.9,371.2 284.1,372.2 285.6,374.4 287.2,370.6 289.1,369.4 290.4,367.5 292.2,367.2 294.1,366.5 295.4,370.0 297.9,372.2 299.5,374.4 301.0,371.2 302.9,370.2 304.0,370.6 304.0,370.2 305.9,373.8 307.8,373.1 309.6,375.0 311.5,377.5 313.4,380.6 315.2,378.1 317.1,376.2 319.0,373.8 320.9,372.2 322.8,373.5 324.0,371.9 325.2,368.5 327.1,369.4 329.6,369.4 330.9,367.2 332.5,365.2 334.0,368.1 335.9,371.5 337.5,373.8 339.6,371.0 341.5,369.8 343.4,369.4 345.0,371.2 346.5,373.5 348.4,373.5 350.2,372.5 351.5,373.5 352.5,375.6 353.4,371.5 355.2,372.2 356.2,368.1 357.5,364.4 359.0,368.1 361.5,369.8 363.4,368.5 365.2,366.2 367.1,363.8 369.0,364.4 371.5,365.6 374.0,368.1 375.2,371.2 376.5,374.4 378.4,373.5 379.6,368.8 380.5,367.2 382.1,372.5 384.0,374.0 385.5,375.2 387.1,374.4 388.8,376.2 389.6,378.5 390.5,373.8 392.1,373.1 394.0,374.4 396.2,374.4 397.5,370.6 399.2,373.5 400.9,370.2 403.6,367.2 405.2,369.4 406.5,371.2 409.6,372.5 412.1,371.5 414.0,371.0 415.9,368.1 417.5,364.4 419.0,368.8 420.9,375.0 422.8,379.4 425.2,383.8 427.5,386.5 429.6,384.4 432.0,384.0 432.0,382.5 433.9,377.5 435.8,377.8 438.2,375.2 439.8,376.5 441.4,375.6 443.5,377.8 445.8,376.2 448.2,372.5 450.1,376.5 452.2,375.6 454.5,372.2 456.4,370.6 457.6,375.6 458.9,380.6 461.0,382.5 464.2,380.6 465.8,383.1 467.6,385.6 470.1,384.4 472.0,386.0 474.2,388.1 475.8,388.1 477.6,390.2 479.5,394.8 482.0,391.9 483.2,395.0 484.5,401.2 485.5,412.5 486.0,422.5 487.4,430.6 488.9,422.5 489.8,415.0 490.5,407.5 491.8,400.0 493.2,398.5 494.5,406.2 496.4,405.0 498.2,397.5 500.1,389.4 501.4,388.5 503.2,390.6 505.1,385.0 507.0,381.5 508.5,383.8 510.5,382.5 512.0,376.9 513.0,368.8 513.9,358.8 514.8,349.4 515.5,345.6 516.4,349.4 517.6,358.8 518.9,368.8 520.1,375.6 521.4,382.5 522.2,376.9 524.5,380.0 526.8,384.4 528.9,389.4 530.1,396.2 531.6,402.5 533.9,400.0 535.8,396.2 537.0,391.9 539.5,390.0 542.2,387.5 543.9,389.4 544.0,389.9 545.9,392.4 547.8,389.2 551.2,385.5 552.8,389.5 554.6,391.1 556.5,389.2 558.4,378.6 560.2,382.4 562.8,388.6 564.6,391.8 567.8,395.5 569.6,394.2 571.5,392.4 573.0,393.0 575.2,399.2 577.1,402.4 579.6,403.0 581.5,404.9 582.1,414.2 582.8,424.0 582.9,427.8 584.0,442.8 586.5,447.1 588.0,453.4 589.0,472.8 590.2,498.4 591.2,511.5 591.5,519.4 592.1,512.1 593.4,483.4 594.4,457.1 595.2,429.0 596.2,424.0 596.4,424.0 596.5,408.6 599.0,403.0 602.5,395.5 602.8,389.2 604.0,384.9 605.5,383.0 607.5,388.6 609.0,384.9 609.6,378.0 610.9,366.1 611.5,353.6 612.5,345.5 614.2,344.9 615.2,336.8 616.5,328.0 617.8,296.0 618.5,277.5 619.5,269.4 620.4,278.1 620.8,293.8 621.2,296.0 622.5,328.0 622.8,344.2 624.0,368.0 624.6,368.6 625.0,385.5 625.5,398.0 627.1,403.0 629.6,406.5 633.4,406.8 634.6,404.0 637.1,401.8 639.6,401.8 640.9,406.1 642.8,406.1 645.0,403.0 646.8,399.5 649.6,400.5 651.5,404.9 653.4,405.5 655.2,403.0 656.8,399.5 658.4,401.8 660.2,406.1 662.1,408.0 664.6,405.2 667.8,401.8 670.2,404.2 672.0,405.5 672.0,406.1 675.1,408.4 677.6,406.1 680.8,405.5 682.6,409.2 684.5,413.0 686.8,412.8 689.5,414.9 692.0,416.5 697.0,416.1 699.5,413.0 701.0,414.5 703.2,414.9 706.8,417.4 708.9,415.5 712.0,417.4 715.1,419.0 717.6,419.2 719.5,416.1 721.0,414.9 723.2,417.0 725.8,414.9 728.9,414.9 730.8,411.1 732.6,412.0 734.5,410.5 736.4,411.1 737.6,409.2 739.5,411.1 742.0,409.0 743.2,409.0 744.8,404.9 746.4,407.0 749.5,408.2 751.0,407.4 753.2,410.5 755.1,410.8 757.6,414.9 759.5,414.2 762.0,413.0 763.9,412.4 766.4,414.9 768.2,416.1 770.1,414.9 771.4,416.8 773.0,415.5 775.8,418.6 777.6,419.2 780.1,420.5 781.8,417.0 783.2,417.4 785.1,414.2 787.0,412.4 788.5,414.2 790.1,418.6 792.6,419.9 795.8,420.5 798.2,422.0 800.0,422.4 800.0,421.6 802.5,419.8 805.0,416.6 806.9,416.0 808.5,418.5 809.8,428.5 811.0,438.5 811.9,443.5 813.1,437.2 814.4,429.8 816.0,421.0 817.5,413.5 818.8,412.2 821.2,412.9 823.1,411.6 824.4,410.0 826.2,413.2 828.8,412.2 830.6,408.8 832.2,405.4 834.4,408.2 836.2,401.6 837.5,392.2 838.8,383.5 839.8,380.4 840.6,384.8 841.9,391.6 843.1,398.5 844.4,407.2 845.6,412.9 847.5,416.0 848.8,417.2 850.6,412.9 852.5,409.1 854.4,408.2 856.2,408.8 857.8,411.6 859.4,408.5 861.2,411.0 863.1,415.4 865.0,420.4 866.9,424.5 869.4,419.5 871.9,419.1 875.0,420.4 876.9,418.5 878.8,417.2 880.6,422.2 882.5,426.6 884.4,422.2 886.2,417.9 888.1,414.5 890.0,412.2 891.9,405.8 894.4,402.2 896.2,404.8 898.1,409.1 899.6,412.2 901.2,408.8 903.1,412.2 905.0,417.2 906.5,421.2 908.1,412.9 910.0,403.2 912.5,400.4 913.5,409.8 915.0,414.1 917.5,418.2 920.0,418.5 921.9,414.1 923.8,411.6 928.0,411.6 928.0,411.0 929.8,409.5 931.6,407.9 933.2,405.4 934.8,406.0 936.2,405.4 938.5,407.9 940.4,410.4 941.6,407.2 943.2,404.1 945.0,402.9 946.6,405.4 948.5,407.5 950.4,406.2 952.2,407.2 954.1,407.2 956.0,408.5 957.9,411.0 959.5,412.9 961.2,409.5 962.9,411.0 964.5,413.5 966.2,411.6 968.2,411.2 970.4,412.5 972.2,414.5 973.8,410.0 976.0,410.4 977.2,411.6 979.1,410.8 981.6,411.6 983.5,409.5 984.8,408.2 986.6,409.8 988.5,410.8 990.4,412.9 992.0,415.4 993.2,415.8 994.8,410.4 996.6,412.2 998.5,412.9 1000.4,413.5 1002.2,411.0 1004.1,408.5 1005.0,408.2"/>
<g class="ax">
<rect x="54.5" y="38.5" width="951" height="703"/>
<line x1="54" y1="155.5" x2="62" y2="155.5"/>
<line x1="998" y1="155.5" x2="1006" y2="155.5"/>
<line x1="54" y1="272.5" x2="62" y2="272.5"/>
<line x1="998" y1="272.5" x2="1006" y2="272.5"/>
<line x1="54" y1="389.5" x2="62" y2="389.5"/>
<line x1="998" y1="389.5" x2="1006" y2="389.5"/>
<line x1="54" y1="507.5" x2="62" y2="507.5"/>
<line x1="998" y1="507.5" x2="1006" y2="507.5"/>
<line x1="54" y1="624.5" x2="62" y2="624.5"/>
<line x1="998" y1="624.5" x2="1006" y2="624.5"/>
<line x1="230.5" y1="38" x2="230.5" y2="46"/>
<line x1="230.5" y1="734" x2="230.5" y2="742"/>
<line x1="406.5" y1="38" x2="406.5" y2="46"/>
<line x1="406.5" y1="734" x2="406.5" y2="742"/>
<line x1="582.5" y1="38" x2="582.5" y2="46"/>
<line x1="582.5" y1="734" x2="582.5" y2="742"/>
<line x1="758.5" y1="38" x2="758.5" y2="46"/>
<line x1="758.5" y1="734" x2="758.5" y2="742"/>
<line x1="935.5" y1="38" x2="935.5" y2="46"/>
<line x1="935.5" y1="734" x2="935.5" y2="742"/>
</g>
<g class="lbl">
<text xml:space="preserve"><tspan class="d" x="17.44 23.44 29.44 35.44 41.44" y="42.8">15000</tspan></text>
<text xml:space="preserve"><tspan class="d" x="17.44 23.44 29.44 35.44 41.44" y="159.8">10000</tspan></text>
<text xml:space="preserve"><tspan class="d" x="23.44 29.44 35.44 41.44" y="276.8">5000</tspan></text>
<text xml:space="preserve"><tspan class="d" x="41.44" y="393.8">0</tspan></text>
<text xml:space="preserve"><tspan class="d" x="17.2" y="511" textLength="6.6" lengthAdjust="spacingAndGlyphs">-</tspan><tspan class="d" x="23.44 29.44 35.44 41.44" y="511.8">5000</tspan></text>
<text xml:space="preserve"><tspan class="d" x="11.2" y="628" textLength="6.6" lengthAdjust="spacingAndGlyphs">-</tspan><tspan class="d" x="17.44 23.44 29.44 35.44 41.44" y="628.8">10000</tspan></text>
<text xml:space="preserve"><tspan class="d" x="11.2" y="745" textLength="6.6" lengthAdjust="spacingAndGlyphs">-</tspan><tspan class="d" x="17.44 23.44 29.44 35.44 41.44" y="745.8">15000</tspan></text>
<text xml:space="preserve"><tspan class="d" x="53.44" y="758.8">0</tspan></text>
<text xml:space="preserve"><tspan class="d" x="223.44 229.44 235.44" y="758.8">100</tspan></text>
<text xml:space="preserve"><tspan class="d" x="399.44 405.44 411.44" y="758.8">200</tspan></text>
<text xml:space="preserve"><tspan class="d" x="575.44 581.44 587.44" y="758.8">300</tspan></text>
<text xml:space="preserve"><tspan class="d" x="751.44 757.44 763.44" y="758.8">400</tspan></text>
<text xml:space="preserve"><tspan class="d" x="928.44 934.44 940.44" y="758.8">500</tspan></text>
<text xml:space="preserve"><tspan class="m" x="504.5" y="23" textLength="6" lengthAdjust="spacingAndGlyphs">m</tspan><tspan class="d" x="510.44 516.44 522.44 528.44" y="22.8">2000</tspan><tspan class="m" x="534.5" y="23" textLength="6" lengthAdjust="spacingAndGlyphs">_</tspan><tspan class="d" x="540.44 546.44" y="22.8">08</tspan></text>
<text xml:space="preserve"><tspan class="m" x="919.5" y="56" textLength="24" lengthAdjust="spacingAndGlyphs">line</tspan> <tspan class="d" x="949.44" y="55.8">1</tspan></text>
<text xml:space="preserve"><tspan class="m" x="919.5" y="69" textLength="24" lengthAdjust="spacingAndGlyphs">line</tspan> <tspan class="d" x="949.44" y="68.8">2</tspan></text>
<text xml:space="preserve"><tspan class="m" x="919.5" y="82" textLength="24" lengthAdjust="spacingAndGlyphs">line</tspan> <tspan class="d" x="949.44" y="81.8">3</tspan></text>
<text xml:space="preserve"><tspan class="m" x="919.5" y="95" textLength="24" lengthAdjust="spacingAndGlyphs">line</tspan> <tspan class="d" x="949.44" y="94.8">4</tspan></text>
<text xml:space="preserve"><tspan class="m" x="919.5" y="108" textLength="24" lengthAdjust="spacingAndGlyphs">line</tspan> <tspan class="d" x="949.44" y="107.8">5</tspan></text>
</g>
<g>
<line x1="962" y1="51.5" x2="994" y2="51.5" stroke="#ff0000" stroke-width="1"/>
<line x1="962" y1="64.5" x2="994" y2="64.5" stroke="#00c000" stroke-width="1"/>
<line x1="962" y1="77.5" x2="994" y2="77.5" stroke="#0080ff" stroke-width="1"/>
<line x1="962" y1="90.5" x2="994" y2="90.5" stroke="#c000ff" stroke-width="1"/>
<line x1="962" y1="103.5" x2="994" y2="103.5" stroke="#00eeee" stroke-width="1"/>
</g>
</svg>
</body>
</html>
